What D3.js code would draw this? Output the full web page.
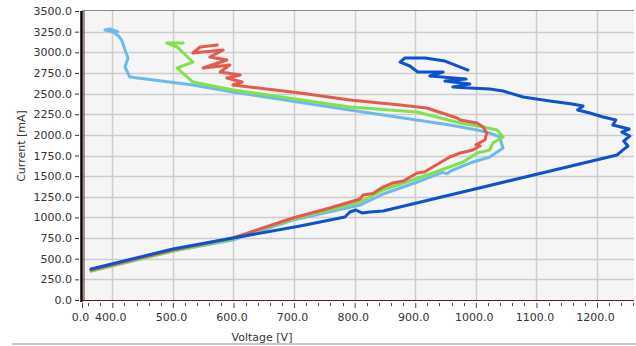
<!DOCTYPE html>
<html><head><meta charset="utf-8">
<script src="https://cdn.jsdelivr.net/npm/d3@7"></script>
<style>html,body{margin:0;padding:0;background:#fff;}svg{display:block;}</style>
</head><body>
<svg id="c" width="636" height="346"></svg>
<script>
// ---- data (Voltage [V], Current [mA]) ----
const yTicks = [0,250,500,750,1000,1250,1500,1750,2000,2250,2500,2750,3000,3250,3500];
const xTicks = [400,500,600,700,800,900,1000,1100,1200];
const xEdgeLabel = "0.0";
const xLabel = "Voltage [V]";
const yLabel = "Current [mA]";

const seriesLightBlue = [[365,351],[500,593],[599,727],[698,969],[809,1150],[847,1284],[900,1420],[945,1545],[952,1530],[958,1560],[990,1659],[1023,1732],[1045,1841],[1042,1900],[1040,1974],[1023,2022],[1002,2059],[957,2119],[792,2301],[599,2519],[533,2604],[429,2700],[421,2822],[426,2931],[421,3028],[416,3140],[410,3200],[401,3245],[388,3270],[396,3282],[409,3250]];
const seriesGreen = [[365,351],[500,593],[599,739],[698,981],[809,1187],[847,1332],[929,1538],[979,1671],[1002,1780],[1023,1817],[1028,1901],[1045,1974],[1035,2059],[1012,2095],[974,2143],[903,2277],[792,2337],[599,2543],[533,2640],[507,2810],[533,2882],[507,3064],[490,3112],[517,3112]];
const seriesRed = [[365,363],[500,606],[599,751],[698,993],[759,1114],[809,1223],[814,1272],[830,1290],[847,1368],[863,1417],[880,1440],[903,1538],[915,1550],[929,1611],[957,1732],[974,1780],[995,1817],[1007,1865],[1000,1880],[1015,1938],[1018,2022],[1012,2095],[1002,2143],[974,2180],[969,2204],[919,2325],[875,2361],[792,2422],[710,2507],[599,2604],[614,2640],[589,2688],[611,2725],[578,2761],[594,2846],[550,2810],[589,2906],[561,2943],[583,3028],[533,2991],[545,3064],[573,3088]];
const seriesBlue = [[365,375],[500,618],[599,751],[710,896],[784,1005],[792,1066],[802,1090],[812,1054],[825,1066],[847,1078],[1233,1756],[1243,1817],[1251,1865],[1244,1925],[1254,1986],[1241,2034],[1253,2071],[1226,2119],[1231,2180],[1210,2216],[1188,2265],[1168,2301],[1177,2349],[1159,2374],[1122,2410],[1078,2458],[1045,2531],[1023,2555],[990,2567],[962,2579],[990,2616],[949,2652],[984,2676],[924,2713],[946,2761],[904,2761],[891,2834],[875,2882],[883,2931],[916,2931],[949,2894],[987,2785]];

const seriesList = [
  {name:"lightblue", data:seriesLightBlue, color:"#6db9ee"},
  {name:"green", data:seriesGreen, color:"#7fe24c"},
  {name:"red", data:seriesRed, color:"#e65a4e"},
  {name:"blue", data:seriesBlue, color:"#0f52cc"}
];

const svg = d3.select("#c");
const L = 82, R = 634, T = 11, B = 300;
const x = d3.scaleLinear().domain([350,1261]).range([L,R]);
const y = d3.scaleLinear().domain([0,3500]).range([B,T]);
const fmt = d3.format(".1f");
const font = "DejaVu Sans, Verdana, sans-serif";

// plot background
svg.append("rect").attr("x",L).attr("y",T).attr("width",R-L).attr("height",B-T).attr("fill","#f5f5f5");

// grid
svg.append("g").selectAll("line").data(yTicks.filter(d=>d>0 && d<3500)).join("line")
  .attr("x1",L).attr("x2",R).attr("y1",d=>Math.round(y(d))+0.5).attr("y2",d=>Math.round(y(d))+0.5)
  .attr("stroke","#cdcdcd").attr("stroke-width",1.5);
svg.append("g").selectAll("line").data(xTicks).join("line")
  .attr("y1",T).attr("y2",B).attr("x1",d=>Math.round(x(d))+0.5).attr("x2",d=>Math.round(x(d))+0.5)
  .attr("stroke","#cdcdcd").attr("stroke-width",1.5);
// top border
svg.append("line").attr("x1",L).attr("x2",R).attr("y1",T-0.5).attr("y2",T-0.5).attr("stroke","#8a8a8a").attr("stroke-width",1.2);

// series
const line = d3.line().x(d=>x(d[0])).y(d=>y(d[1]));
svg.append("g").selectAll("path").data(seriesList).join("path")
  .attr("d",d=>line(d.data)).attr("fill","none").attr("stroke",d=>d.color)
  .attr("stroke-width",3).attr("stroke-linejoin","round").attr("stroke-linecap","round");

// y axis
const yAxis = d3.axisLeft(y).tickValues(yTicks).tickFormat(fmt).tickSize(4).tickPadding(3);
const gy = svg.append("g").attr("transform",`translate(${L-3},0)`).call(yAxis);
gy.select(".domain").remove();
gy.selectAll("text").attr("font-family",font).attr("font-size",11).attr("fill","#333");
gy.selectAll(".tick line").attr("stroke","#333");

// x axis minor ticks
const minor = d3.range(360,1261,20).filter(v=>xTicks.indexOf(v)<0);
svg.append("g").selectAll("line").data(minor).join("line")
  .attr("x1",d=>Math.round(x(d))+0.5).attr("x2",d=>Math.round(x(d))+0.5).attr("y1",B+3).attr("y2",B+6)
  .attr("stroke","#444").attr("stroke-width",1);
const xAxis = d3.axisBottom(x).tickValues([350].concat(xTicks)).tickFormat(d=>d===350?xEdgeLabel:fmt(d)).tickSize(7).tickPadding(5);
const gx = svg.append("g").attr("transform",`translate(0,${B+1})`).call(xAxis);
gx.select(".domain").remove();
gx.selectAll("text").attr("font-family",font).attr("font-size",11).attr("fill","#333").attr("dx",-2);
gx.selectAll(".tick line").attr("stroke","#444").attr("y1",2);

// axis lines
svg.append("line").attr("x1",L).attr("x2",R).attr("y1",B+0.5).attr("y2",B+0.5).attr("stroke","#5a1c1c").attr("stroke-width",1.2);
svg.append("line").attr("x1",L-0.5).attr("x2",L-0.5).attr("y1",T).attr("y2",B+2).attr("stroke","#000").attr("stroke-width",2.5);
svg.append("line").attr("x1",L+2).attr("x2",L+2).attr("y1",T).attr("y2",B).attr("stroke","#6a2020").attr("stroke-width",1);

// axis titles
svg.append("text").attr("x",262).attr("y",341).attr("text-anchor","middle")
  .attr("font-family",font).attr("font-size",11).attr("fill","#333").text(xLabel);
svg.append("text").attr("transform","translate(25,146) rotate(-90)").attr("text-anchor","middle")
  .attr("font-family",font).attr("font-size",11).attr("fill","#333").text(yLabel);

// bottom separator
svg.append("line").attr("x1",12).attr("x2",636).attr("y1",344).attr("y2",344).attr("stroke","#c8c8c8").attr("stroke-width",2);
</script>
</body></html>
